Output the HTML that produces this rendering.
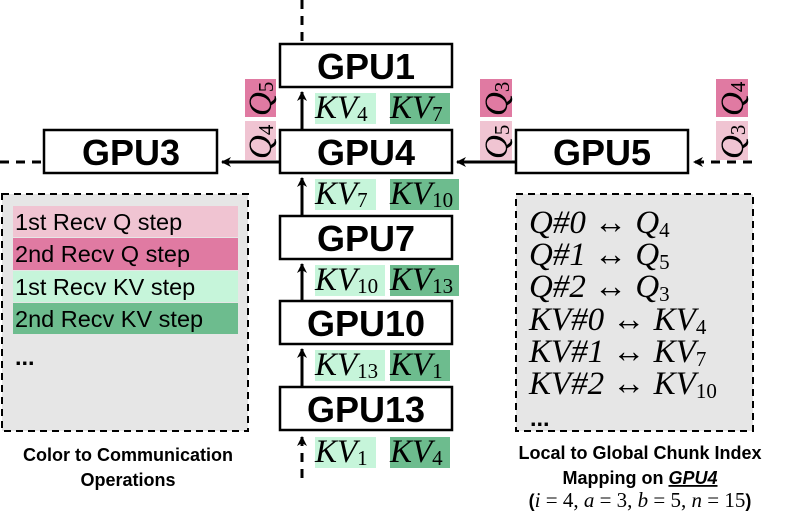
<!DOCTYPE html>
<html><head><meta charset="utf-8"><style>
body{margin:0;background:#fff}
svg{display:block}
.g{font-family:"Liberation Sans",sans-serif;font-weight:bold;font-size:36px;text-anchor:middle}
.m{font-family:"Liberation Serif",serif;font-style:italic;font-size:33px}
.s{font-style:normal;font-size:21px}
.l{font-family:"Liberation Sans",sans-serif;font-size:23.5px}
.c{font-family:"Liberation Sans",sans-serif;font-weight:bold;font-size:18px;text-anchor:middle}
</style></head><body>
<svg width="797" height="514" viewBox="0 0 797 514" xmlns="http://www.w3.org/2000/svg">
<defs><marker id="a" markerWidth="10" markerHeight="10" refX="9" refY="5" orient="auto" markerUnits="userSpaceOnUse"><path d="M0,0 L10,5 L0,10 L3,5 Z" fill="#000"/></marker></defs>
<g stroke="#000" stroke-width="3" stroke-dasharray="9,7" fill="none">
<line x1="302" y1="0" x2="302" y2="44"/>
<line x1="0" y1="162" x2="44" y2="162"/>
<line x1="752" y1="162" x2="694" y2="162" marker-end="url(#a)"/>
<line x1="302" y1="478" x2="302" y2="437" marker-end="url(#a)"/>
</g>
<g stroke="#000" stroke-width="3" fill="none">
<line x1="302" y1="130" x2="302" y2="92" marker-end="url(#a)"/>
<line x1="302" y1="216" x2="302" y2="178" marker-end="url(#a)"/>
<line x1="302" y1="301" x2="302" y2="264" marker-end="url(#a)"/>
<line x1="302" y1="387" x2="302" y2="349" marker-end="url(#a)"/>
<line x1="280" y1="162" x2="222" y2="162" marker-end="url(#a)"/>
<line x1="516" y1="162" x2="457" y2="162" marker-end="url(#a)"/>
</g>
<g fill="#fff" stroke="#000" stroke-width="2.5">
<rect x="280" y="44" width="172" height="43"/>
<rect x="280" y="130" width="172" height="43"/>
<rect x="280" y="216" width="172" height="43"/>
<rect x="280" y="301" width="172" height="43"/>
<rect x="280" y="387" width="172" height="43"/>
<rect x="44" y="130" width="173" height="43"/>
<rect x="516" y="130" width="172" height="43"/>
</g>
<g class="g">
<text x="366" y="79">GPU1</text><text x="366" y="165">GPU4</text><text x="366" y="251">GPU7</text>
<text x="366" y="336">GPU10</text><text x="366" y="422">GPU13</text>
<text x="131" y="165">GPU3</text><text x="602" y="165">GPU5</text>
</g>
<g>
<rect x="315" y="93" width="61" height="31" fill="#c6f5da"/><rect x="390" y="93" width="60" height="31" fill="#6dbc8e"/>
<rect x="315" y="179" width="61" height="31" fill="#c6f5da"/><rect x="390" y="179" width="69" height="31" fill="#6dbc8e"/>
<rect x="315" y="265" width="70" height="31" fill="#c6f5da"/><rect x="390" y="265" width="69" height="31" fill="#6dbc8e"/>
<rect x="315" y="350" width="70" height="31" fill="#c6f5da"/><rect x="390" y="350" width="60" height="31" fill="#6dbc8e"/>
<rect x="315" y="437" width="61" height="31" fill="#c6f5da"/><rect x="390" y="437" width="60" height="31" fill="#6dbc8e"/>
</g>
<g class="m">
<text x="315" y="118">KV<tspan class="s" dy="3">4</tspan></text><text x="390" y="118">KV<tspan class="s" dy="3">7</tspan></text>
<text x="315" y="204">KV<tspan class="s" dy="3">7</tspan></text><text x="390" y="204">KV<tspan class="s" dy="3">10</tspan></text>
<text x="315" y="290">KV<tspan class="s" dy="3">10</tspan></text><text x="390" y="290">KV<tspan class="s" dy="3">13</tspan></text>
<text x="315" y="375">KV<tspan class="s" dy="3">13</tspan></text><text x="390" y="375">KV<tspan class="s" dy="3">1</tspan></text>
<text x="315" y="462">KV<tspan class="s" dy="3">1</tspan></text><text x="390" y="462">KV<tspan class="s" dy="3">4</tspan></text>
</g>
<g>
<rect x="245" y="79" width="31" height="38" fill="#e07aa2"/><rect x="245" y="121" width="31" height="39" fill="#f0c4d2"/>
<rect x="480" y="79" width="32" height="38" fill="#e07aa2"/><rect x="480" y="121" width="32" height="39" fill="#f0c4d2"/>
<rect x="716" y="79" width="32" height="38" fill="#e07aa2"/><rect x="716" y="121" width="32" height="39" fill="#f0c4d2"/>
</g>
<g class="m" font-size="31">
<text transform="translate(271,116) rotate(-90)">Q<tspan class="s" dy="2">5</tspan></text>
<text transform="translate(271,159) rotate(-90)">Q<tspan class="s" dy="2">4</tspan></text>
<text transform="translate(507,116) rotate(-90)">Q<tspan class="s" dy="2">3</tspan></text>
<text transform="translate(507,159) rotate(-90)">Q<tspan class="s" dy="2">5</tspan></text>
<text transform="translate(743,116) rotate(-90)">Q<tspan class="s" dy="2">4</tspan></text>
<text transform="translate(743,159) rotate(-90)">Q<tspan class="s" dy="2">3</tspan></text>
</g>
<rect x="2" y="194" width="246" height="237" fill="#e6e6e6" stroke="#000" stroke-width="2" stroke-dasharray="7,5"/>
<rect x="13" y="206" width="225" height="31" fill="#f0c4d2"/>
<rect x="13" y="238" width="225" height="32" fill="#e07aa2"/>
<rect x="13" y="271" width="225" height="31" fill="#c6f5da"/>
<rect x="13" y="303" width="225" height="31" fill="#6dbc8e"/>
<g class="l">
<text x="15" y="230">1st Recv Q step</text><text x="15" y="262">2nd Recv Q step</text>
<text x="15" y="295">1st Recv KV step</text><text x="15" y="327">2nd Recv KV step</text>
<text x="15" y="365" font-weight="bold">...</text>
</g>
<text class="c" x="128" y="461">Color to Communication</text>
<text class="c" x="128" y="486">Operations</text>
<rect x="516" y="194" width="237" height="237" fill="#e6e6e6" stroke="#000" stroke-width="2" stroke-dasharray="7,5"/>
<g class="m" font-size="31">
<text x="529" y="233">Q#0 ↔ Q<tspan class="s" dy="4">4</tspan></text>
<text x="529" y="265">Q#1 ↔ Q<tspan class="s" dy="4">5</tspan></text>
<text x="529" y="297">Q#2 ↔ Q<tspan class="s" dy="4">3</tspan></text>
<text x="529" y="330">KV#0 ↔ KV<tspan class="s" dy="4">4</tspan></text>
<text x="529" y="362">KV#1 ↔ KV<tspan class="s" dy="4">7</tspan></text>
<text x="529" y="394">KV#2 ↔ KV<tspan class="s" dy="4">10</tspan></text>
</g>
<text x="530" y="426" class="l" font-weight="bold">...</text>
<text class="c" x="640" y="459">Local to Global Chunk Index</text>
<text class="c" x="640" y="484">Mapping on <tspan font-style="italic" text-decoration="underline">GPU4</tspan></text>
<text class="c" x="640" y="507">(<tspan font-family="Liberation Serif" font-style="italic" font-weight="normal" font-size="21">i</tspan><tspan font-family="Liberation Serif" font-weight="normal" font-size="21"> = 4, </tspan><tspan font-family="Liberation Serif" font-style="italic" font-weight="normal" font-size="21">a</tspan><tspan font-family="Liberation Serif" font-weight="normal" font-size="21"> = 3, </tspan><tspan font-family="Liberation Serif" font-style="italic" font-weight="normal" font-size="21">b</tspan><tspan font-family="Liberation Serif" font-weight="normal" font-size="21"> = 5, </tspan><tspan font-family="Liberation Serif" font-style="italic" font-weight="normal" font-size="21">n</tspan><tspan font-family="Liberation Serif" font-weight="normal" font-size="21"> = 15</tspan>)</text>
</svg>
</body></html>
